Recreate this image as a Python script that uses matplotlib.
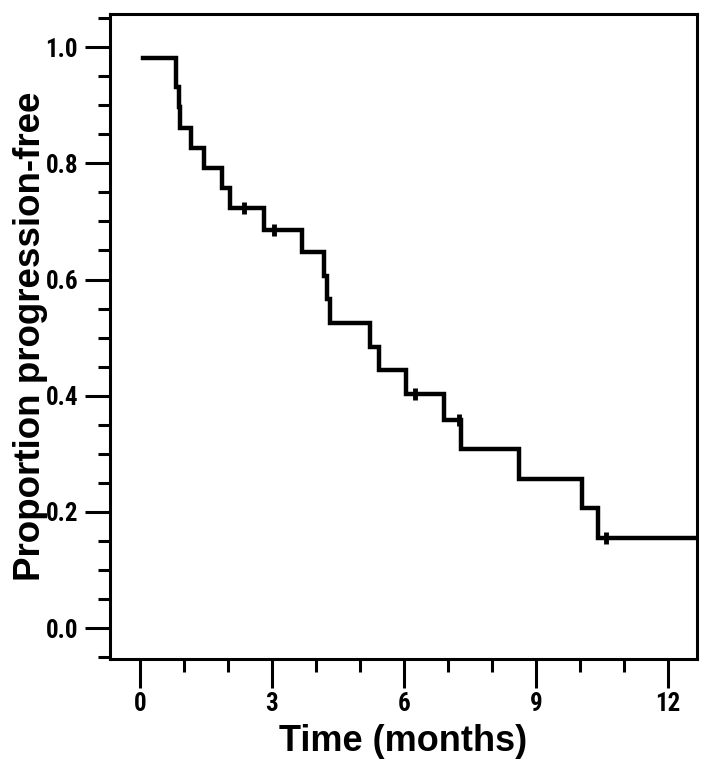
import numpy as np
import matplotlib.pyplot as plt
from matplotlib.ticker import MultipleLocator

# Kaplan-Meier step curve (months, proportion)
event_times = [0.08, 0.83, 0.88, 0.91, 1.16, 1.46, 1.86, 2.05, 2.83, 3.69,
               4.19, 4.24, 4.33, 5.23, 5.43, 6.05, 6.91, 7.30, 8.62, 10.05,
               10.40, 12.70]
surv = [0.982, 0.932, 0.897, 0.861, 0.827, 0.792, 0.758, 0.723, 0.686, 0.647,
        0.606, 0.566, 0.525, 0.484, 0.444, 0.403, 0.358, 0.308, 0.256, 0.206,
        0.155, 0.155]
# censored observations
cens_t = [2.37, 3.05, 6.25, 7.26, 10.58]
cens_s = [0.723, 0.686, 0.403, 0.358, 0.155]

xticks = [0, 3, 6, 9, 12]
yticks = [0.0, 0.2, 0.4, 0.6, 0.8, 1.0]

plt.rcParams['font.family'] = ['Liberation Sans', 'DejaVu Sans']
narrow = ['Roboto Condensed', 'DejaVu Sans']

fig = plt.figure(figsize=(7.12, 7.74), dpi=100)
ax = fig.add_axes([0.1545, 0.1486, 0.8245, 0.8334])

ax.step(event_times, surv, where='post', color='black', lw=3.2,
        solid_joinstyle='miter')
ax.plot(cens_t, cens_s, ls='none', marker='|', ms=9, mew=3.5, color='black')

ax.set_xlim(-0.68, 12.66)
ax.set_ylim(-0.053, 1.057)

ax.set_xticks(xticks)
ax.set_yticks(yticks)
ax.set_yticklabels([f"{v:.1f}" for v in yticks])
ax.xaxis.set_minor_locator(MultipleLocator(1))
ax.yaxis.set_minor_locator(MultipleLocator(0.05))

ax.tick_params(which='major', direction='out', length=18, width=2.2,
               labelsize=18, pad=5)
ax.tick_params(which='minor', direction='out', length=9, width=2.2)
ax.tick_params(axis='x', which='major', length=21, pad=3)

for lab in ax.get_xticklabels() + ax.get_yticklabels():
    lab.set_family(narrow)
    lab.set_fontweight('bold')

for sp in ax.spines.values():
    sp.set_linewidth(2.2)

ax.set_xlabel("Time (months)", fontsize=26, fontweight='bold')
ax.set_ylabel("Proportion progression-free", fontsize=26.5, fontweight='bold')
ax.xaxis.set_label_coords(0.5, -0.101)
ax.yaxis.set_label_coords(-0.106, 0.5)

fig.savefig("out.png", dpi=100)
